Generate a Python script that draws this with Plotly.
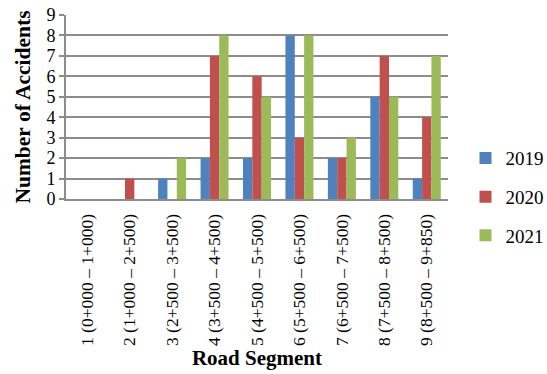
import plotly.graph_objects as go

categories = ["1 (0+000 – 1+000)", "2 (1+000 – 2+500)", "3 (2+500 – 3+500)",
              "4 (3+500 – 4+500)", "5 (4+500 – 5+500)", "6 (5+500 – 6+500)",
              "7 (6+500 – 7+500)", "8 (7+500 – 8+500)", "9 (8+500 – 9+850)"]
y2019 = [0, 0, 1, 2, 2, 8, 2, 5, 1]
y2020 = [0, 1, 0, 7, 6, 3, 2, 7, 4]
y2021 = [0, 0, 2, 8, 5, 8, 3, 5, 7]
series_names = ["2019", "2020", "2021"]
colors = ["#4F81BD", "#C0504D", "#9BBB59"]

fig = go.Figure()
for name, vals, col in zip(series_names, [y2019, y2020, y2021], colors):
    fig.add_trace(go.Bar(x=categories, y=vals, name=name, marker_color=col,
                         marker_line_width=0, legendgroup=name))

ff = "Liberation Serif"
fig.update_layout(
    width=547, height=374,
    margin=dict(l=66, r=99, t=15, b=175, autoexpand=False),
    paper_bgcolor="white", plot_bgcolor="white",
    barmode="group", bargap=0.34, bargroupgap=0,
    font=dict(family=ff, color="black"),
    legend=dict(xref="container", yref="container", x=0.851, xanchor="left",
                y=0.473, yanchor="middle",
                font=dict(size=19, family=ff, color="black"), tracegroupgap=11,
                itemwidth=30, bgcolor="rgba(0,0,0,0)"),
    showlegend=True,
)
fig.update_xaxes(
    tickangle=-90, tickfont=dict(size=17.5, family=ff, color="black"),
    showline=True, linecolor="#8C8C8C", linewidth=2,
    showgrid=False, ticks="", ticklabelstandoff=6,
    title=dict(text="<b>Road Segment</b>", font=dict(size=21, family=ff, color="black"), standoff=4),
)
fig.update_yaxes(
    range=[0, 9], dtick=1, tickfont=dict(size=18, family=ff, color="black"),
    showgrid=True, gridcolor="#8C8C8C", gridwidth=1.5,
    showline=True, linecolor="#8C8C8C", linewidth=2,
    ticks="outside", ticklen=5, tickcolor="#8C8C8C", tickwidth=1.5,
    zeroline=False,
    title=dict(text="<b>Number of Accidents</b>", font=dict(size=21.5, family=ff, color="black"), standoff=10),
)
fig.write_html("out.html")
